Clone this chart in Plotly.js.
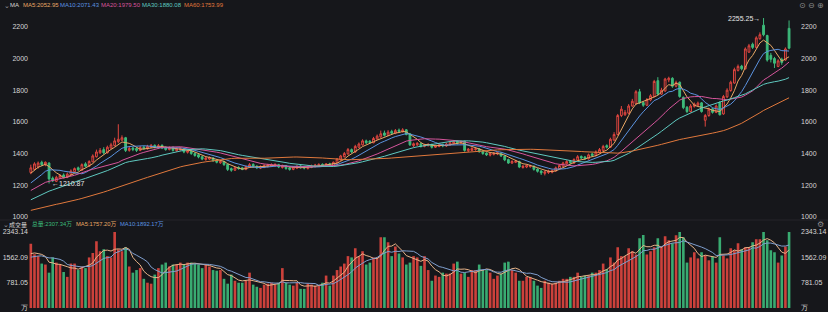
<!DOCTYPE html>
<html><head><meta charset="utf-8">
<script src="https://cdn.plot.ly/plotly-3.0.1.min.js"></script>
<style>html,body{margin:0;padding:0;background:#16171b;}#chart{width:828px;height:312px;}</style>
</head><body><div id="chart"></div>
<script>
// ---- data ----
const openP=[1280,1300,1315,1345,1330,1340,1245,1225,1245,1265,1250,1268,1285,1310,1295,1335,1320,1348,1380,1405,1425,1405,1435,1450,1475,1485,1500,1420,1435,1432,1420,1440,1430,1440,1452,1438,1452,1440,1425,1440,1418,1425,1430,1408,1418,1400,1392,1380,1362,1365,1372,1358,1342,1350,1332,1305,1295,1312,1310,1300,1315,1332,1320,1308,1312,1318,1320,1322,1330,1312,1322,1310,1300,1308,1322,1318,1305,1312,1318,1322,1332,1320,1335,1325,1342,1360,1380,1398,1425,1410,1440,1455,1480,1478,1468,1492,1505,1530,1515,1540,1528,1548,1538,1550,1525,1450,1455,1462,1445,1450,1458,1440,1445,1458,1448,1455,1462,1478,1465,1478,1418,1420,1425,1430,1415,1402,1390,1395,1398,1402,1385,1362,1340,1345,1350,1312,1315,1318,1320,1302,1290,1275,1280,1282,1290,1305,1320,1335,1352,1340,1358,1382,1378,1368,1398,1388,1405,1420,1450,1440,1485,1520,1640,1645,1655,1700,1715,1790,1722,1705,1738,1760,1860,1775,1795,1865,1875,1825,1850,1755,1692,1665,1698,1705,1720,1610,1640,1682,1660,1722,1650,1758,1798,1845,1925,1952,1935,2040,2090,2070,2125,2210,2145,2020,2000,1950,1995,1990,2190];
const highP=[1330,1345,1350,1355,1350,1345,1255,1260,1270,1275,1280,1300,1312,1318,1338,1345,1358,1395,1425,1435,1440,1450,1468,1500,1585,1515,1505,1445,1442,1440,1448,1450,1455,1460,1458,1460,1458,1445,1445,1445,1438,1440,1436,1425,1425,1408,1398,1386,1380,1382,1378,1362,1358,1354,1335,1312,1318,1320,1316,1325,1340,1338,1326,1325,1332,1335,1338,1338,1335,1330,1328,1315,1320,1326,1328,1322,1325,1330,1335,1338,1338,1340,1342,1350,1372,1392,1410,1435,1432,1455,1470,1490,1488,1485,1505,1520,1545,1545,1548,1550,1555,1558,1560,1555,1530,1470,1472,1468,1462,1465,1462,1455,1460,1462,1468,1475,1485,1482,1482,1480,1435,1440,1438,1435,1420,1408,1408,1410,1412,1408,1390,1368,1358,1360,1355,1328,1332,1330,1325,1308,1295,1292,1298,1298,1318,1332,1348,1358,1358,1370,1390,1388,1385,1400,1405,1420,1435,1455,1458,1500,1535,1650,1700,1675,1712,1745,1800,1808,1730,1750,1775,1865,1882,1815,1878,1885,1882,1860,1855,1760,1700,1712,1722,1728,1725,1650,1690,1690,1710,1730,1770,1812,1860,1942,1962,1960,2070,2092,2100,2140,2165,2255.25,2150,2035,2010,1995,2005,2070,2240];
const lowP=[1270,1295,1305,1320,1320,1211,1220,1220,1240,1245,1245,1262,1280,1290,1290,1312,1315,1345,1375,1398,1395,1400,1430,1445,1465,1478,1410,1412,1415,1410,1415,1425,1425,1435,1432,1432,1428,1418,1420,1412,1412,1418,1402,1400,1392,1380,1370,1358,1355,1360,1348,1338,1335,1322,1290,1285,1290,1298,1295,1295,1310,1310,1302,1302,1308,1312,1315,1318,1308,1305,1298,1292,1295,1302,1305,1300,1300,1308,1312,1318,1315,1315,1320,1320,1338,1355,1375,1392,1402,1405,1435,1450,1460,1462,1465,1488,1500,1508,1510,1520,1522,1535,1532,1515,1448,1440,1448,1438,1440,1445,1432,1435,1440,1440,1442,1450,1458,1458,1460,1412,1410,1415,1418,1405,1392,1385,1382,1388,1390,1378,1352,1335,1335,1340,1308,1305,1308,1310,1292,1280,1265,1262,1272,1275,1285,1300,1315,1330,1335,1335,1352,1365,1360,1362,1380,1382,1400,1415,1432,1435,1480,1515,1630,1638,1648,1695,1710,1712,1695,1700,1730,1755,1768,1770,1790,1850,1815,1818,1752,1680,1655,1660,1690,1698,1658,1570,1632,1652,1655,1640,1645,1750,1790,1840,1918,1925,1930,2035,2060,2065,2118,2140,1980,1975,1940,1945,1960,1985,2058];
const closeP=[1310,1335,1340,1330,1345,1240,1228,1250,1262,1250,1270,1290,1305,1298,1330,1320,1350,1385,1410,1420,1405,1440,1455,1480,1490,1500,1420,1432,1425,1420,1438,1430,1445,1452,1440,1450,1435,1425,1438,1420,1430,1432,1410,1418,1400,1388,1378,1365,1372,1375,1355,1345,1350,1330,1300,1295,1310,1305,1300,1318,1330,1318,1310,1318,1325,1328,1330,1332,1315,1325,1305,1300,1315,1320,1312,1308,1318,1322,1328,1332,1322,1335,1328,1345,1365,1385,1400,1425,1410,1445,1460,1480,1468,1470,1495,1510,1525,1515,1535,1528,1545,1540,1550,1520,1455,1462,1465,1445,1455,1458,1440,1448,1455,1448,1460,1468,1475,1465,1475,1420,1428,1432,1430,1412,1400,1392,1400,1402,1405,1385,1360,1340,1350,1352,1315,1320,1325,1322,1300,1288,1278,1285,1290,1292,1310,1325,1340,1350,1342,1362,1380,1372,1368,1392,1388,1410,1425,1445,1440,1490,1520,1640,1680,1660,1700,1730,1790,1720,1705,1740,1765,1855,1775,1800,1870,1875,1825,1848,1760,1690,1665,1700,1712,1718,1665,1640,1680,1660,1700,1645,1760,1800,1850,1930,1950,1935,2060,2080,2070,2130,2150,2150,1990,1995,1970,1985,1975,2060,2065];
const volume=[1980,1660,1600,1370,1340,1090,1560,1400,1340,1110,960,1370,1370,1170,1280,1230,1560,1700,2060,1750,1810,1600,1560,2340,1810,1750,1870,1280,1090,1170,1230,900,780,750,1030,1230,1340,1400,1280,1340,1340,1400,1340,1400,1400,1370,1340,1230,1340,1280,1170,1150,1170,900,750,1030,840,780,780,840,1090,720,655,620,720,750,780,720,780,1230,780,720,690,780,590,590,750,720,690,690,780,1000,690,1000,1170,1280,1370,1600,1560,1840,1600,1750,1340,1400,1560,1560,2180,2180,2030,1600,1900,1680,1560,1340,1400,1600,1560,1300,1600,1170,840,1000,960,1090,1060,1060,1370,1430,1060,1090,960,1170,1170,1340,1170,1170,1090,900,1000,1060,1400,1430,1170,1090,840,840,960,960,840,690,620,840,780,750,780,840,900,900,960,960,1090,960,1000,1000,1090,1090,1170,1370,1200,1560,1400,1870,1600,1600,1840,1750,1650,2150,2250,1650,1750,1870,2150,1900,2210,2090,2000,2240,2343,2180,1400,1560,1720,1530,1720,1620,1470,1590,1400,2180,1620,1530,1840,1780,2000,1810,1870,1870,2030,2120,2120,2340,2090,1780,1720,1400,1620,1900,2340];
const warmupClose=[975,968,960,958,965,972,980,985,978,970,962,958,955,960,968,975,982,990,995,988,980,972,968,965,970,978,985,990,995,1000,1002,995,988,982,985,990,995,992,985,990,1060,1075,1090,1100,1110,1125,1140,1150,1165,1180,1170,1160,1145,1140,1150,1230,1260,1280,1300];
const warmupVol=[1400,1500,1350,1600,1450,1550,1700,1500,1650];
const priceTicks=[1000,1200,1400,1600,1800,2000,2200];
const volTicks=[0,781.05,1562.09,2343.14];
const volTickText=['万','781.05','1562.09','2343.14'];
const maPeriods=[5,10,20,30,60];
const maLabels=['MA5:2052.95','MA10:2071.43','MA20:1979.50','MA30:1880.08','MA60:1753.99'];
const volLabels=['总量:2307.34万','MA5:1757.20万','MA10:1892.17万'];
const highLabel='2255.25→', lowLabel='←1210.87';

// ---- styles ----
const BG='#16171b', RED='#e0463f', GREEN='#3dbb7b', TXT='#d6d6d6';
const maColors=['#e9a866','#5b93e0','#d6559c','#5fc9c0','#e0783c'];
const volLabelColors=[GREEN,'#e9a866','#5b93e0'];
const FONT='Liberation Sans, Arial, sans-serif';
const CJK='Liberation Sans, Noto Sans CJK SC, sans-serif';

const xs=closeP.map((_,i)=>i);
function movingAvg(series,warm,n){
  const all=warm.concat(series);
  return series.map((_,i)=>{const end=warm.length+i;let s=0,c=0;
    for(let k=end-n+1;k<=end;k++){if(k>=0){s+=all[k];c++;}} return s/c;});
}
const idxHigh=highP.indexOf(Math.max(...highP));
const idxLow=lowP.indexOf(Math.min(...lowP));

const traces=[];
traces.push({type:'candlestick',x:xs,open:openP,high:highP,low:lowP,close:closeP,xaxis:'x',yaxis:'y',
  increasing:{line:{color:RED,width:1},fillcolor:BG},decreasing:{line:{color:GREEN,width:1},fillcolor:GREEN},
  whiskerwidth:0,hoverinfo:'skip',showlegend:false});
maPeriods.forEach((p,k)=>traces.push({type:'scatter',mode:'lines',x:xs,y:movingAvg(closeP,warmupClose,p),
  xaxis:'x',yaxis:'y',line:{color:maColors[k],width:1},hoverinfo:'skip',showlegend:false}));
traces.push({type:'bar',x:xs,y:volume,xaxis:'x2',yaxis:'y2',
  marker:{color:volume.map((_,i)=>closeP[i]>=openP[i]?RED:GREEN),opacity:0.9,line:{width:0}},hoverinfo:'skip',showlegend:false});
[5,10].forEach((p,k)=>traces.push({type:'scatter',mode:'lines',x:xs,y:movingAvg(volume,warmupVol,p),
  xaxis:'x2',yaxis:'y2',line:{color:k===0?'#e8b489':'#7f9fcf',width:1},hoverinfo:'skip',showlegend:false}));
// invisible traces so that the right-side axes are drawn
traces.push({type:'scatter',mode:'lines',x:xs,y:closeP,xaxis:'x',yaxis:'y3',opacity:0,hoverinfo:'skip',showlegend:false});
traces.push({type:'scatter',mode:'lines',x:xs,y:volume,xaxis:'x2',yaxis:'y4',opacity:0,hoverinfo:'skip',showlegend:false});

const L=29,R=28,T=10,B=4,W=828,H=312;
const px=x=>(x-L)/(W-L-R), py=y=>(H-B-y)/(H-T-B);
const tickFont={family:FONT,size:7,color:TXT};
const yBase={showgrid:false,zeroline:false,showline:false,ticks:'',tickfont:tickFont,fixedrange:true};
const priceRange=[987,2306], volRange=[0,2350];

const ann=[];
function txt(x,y,t,c,sz,fam){ann.push({xref:'paper',yref:'paper',x:px(x),y:py(y),text:t,showarrow:false,xanchor:'left',yanchor:'middle',font:{family:fam||FONT,size:sz||6,color:c}});}
txt(2,5.5,'⌄','#9a9a9a',7); txt(8,5.5,'MA',TXT);
[21,58,99,140,182].forEach((x,k)=>txt(x,5.5,maLabels[k],maColors[k]));
txt(1,224,'⌄','#9a9a9a',7); txt(7,224,'成交量',TXT,6,'Noto Sans CJK SC');
[30,74,118].forEach((x,k)=>txt(x,224,volLabels[k],volLabelColors[k],5.8,CJK));
[[797,'⊙'],[806,'⊖'],[815,'⊕']].forEach(([x,t])=>txt(x,5.5,t,'#8a8a8a',8,'DejaVu Sans'));
txt(815,224,'⚙','#8a8a8a',8,'DejaVu Sans');
ann.push({xref:'x',yref:'y',x:idxHigh,y:highP[idxHigh],text:highLabel,showarrow:false,xanchor:'right',yanchor:'middle',xshift:-2,font:{family:FONT,size:7,color:'#e6e6e6'}});
ann.push({xref:'x',yref:'y',x:idxLow,y:lowP[idxLow],text:lowLabel,showarrow:false,xanchor:'left',yanchor:'middle',xshift:1,font:{family:FONT,size:7,color:'#e6e6e6'}});

const layout={width:W,height:H,margin:{l:L,r:R,t:T,b:B},paper_bgcolor:BG,plot_bgcolor:BG,showlegend:false,
  bargap:0.28,
  xaxis:{domain:[0,1],range:[-0.5,211],anchor:'y',showticklabels:false,showgrid:false,zeroline:false,ticks:'',rangeslider:{visible:false},fixedrange:true},
  xaxis2:{domain:[0,1],range:[-0.5,211],anchor:'y2',matches:'x',showticklabels:false,showgrid:false,zeroline:false,ticks:'',fixedrange:true},
  yaxis:Object.assign({},yBase,{domain:[py(219),1],range:priceRange,tickvals:priceTicks,side:'left'}),
  yaxis3:Object.assign({},yBase,{overlaying:'y',anchor:'x',side:'right',range:priceRange,tickvals:priceTicks}),
  yaxis2:Object.assign({},yBase,{domain:[0,py(231.8)],range:volRange,tickvals:volTicks,ticktext:volTickText,side:'left'}),
  yaxis4:Object.assign({},yBase,{overlaying:'y2',anchor:'x2',side:'right',range:volRange,tickvals:volTicks,ticktext:volTickText}),
  shapes:[{type:'line',xref:'paper',yref:'paper',x0:-0.04,x1:1.04,y0:py(220),y1:py(220),line:{color:'#24252a',width:1}}],
  annotations:ann};
Plotly.newPlot('chart',traces,layout,{staticPlot:true,displayModeBar:false});
</script></body></html>
